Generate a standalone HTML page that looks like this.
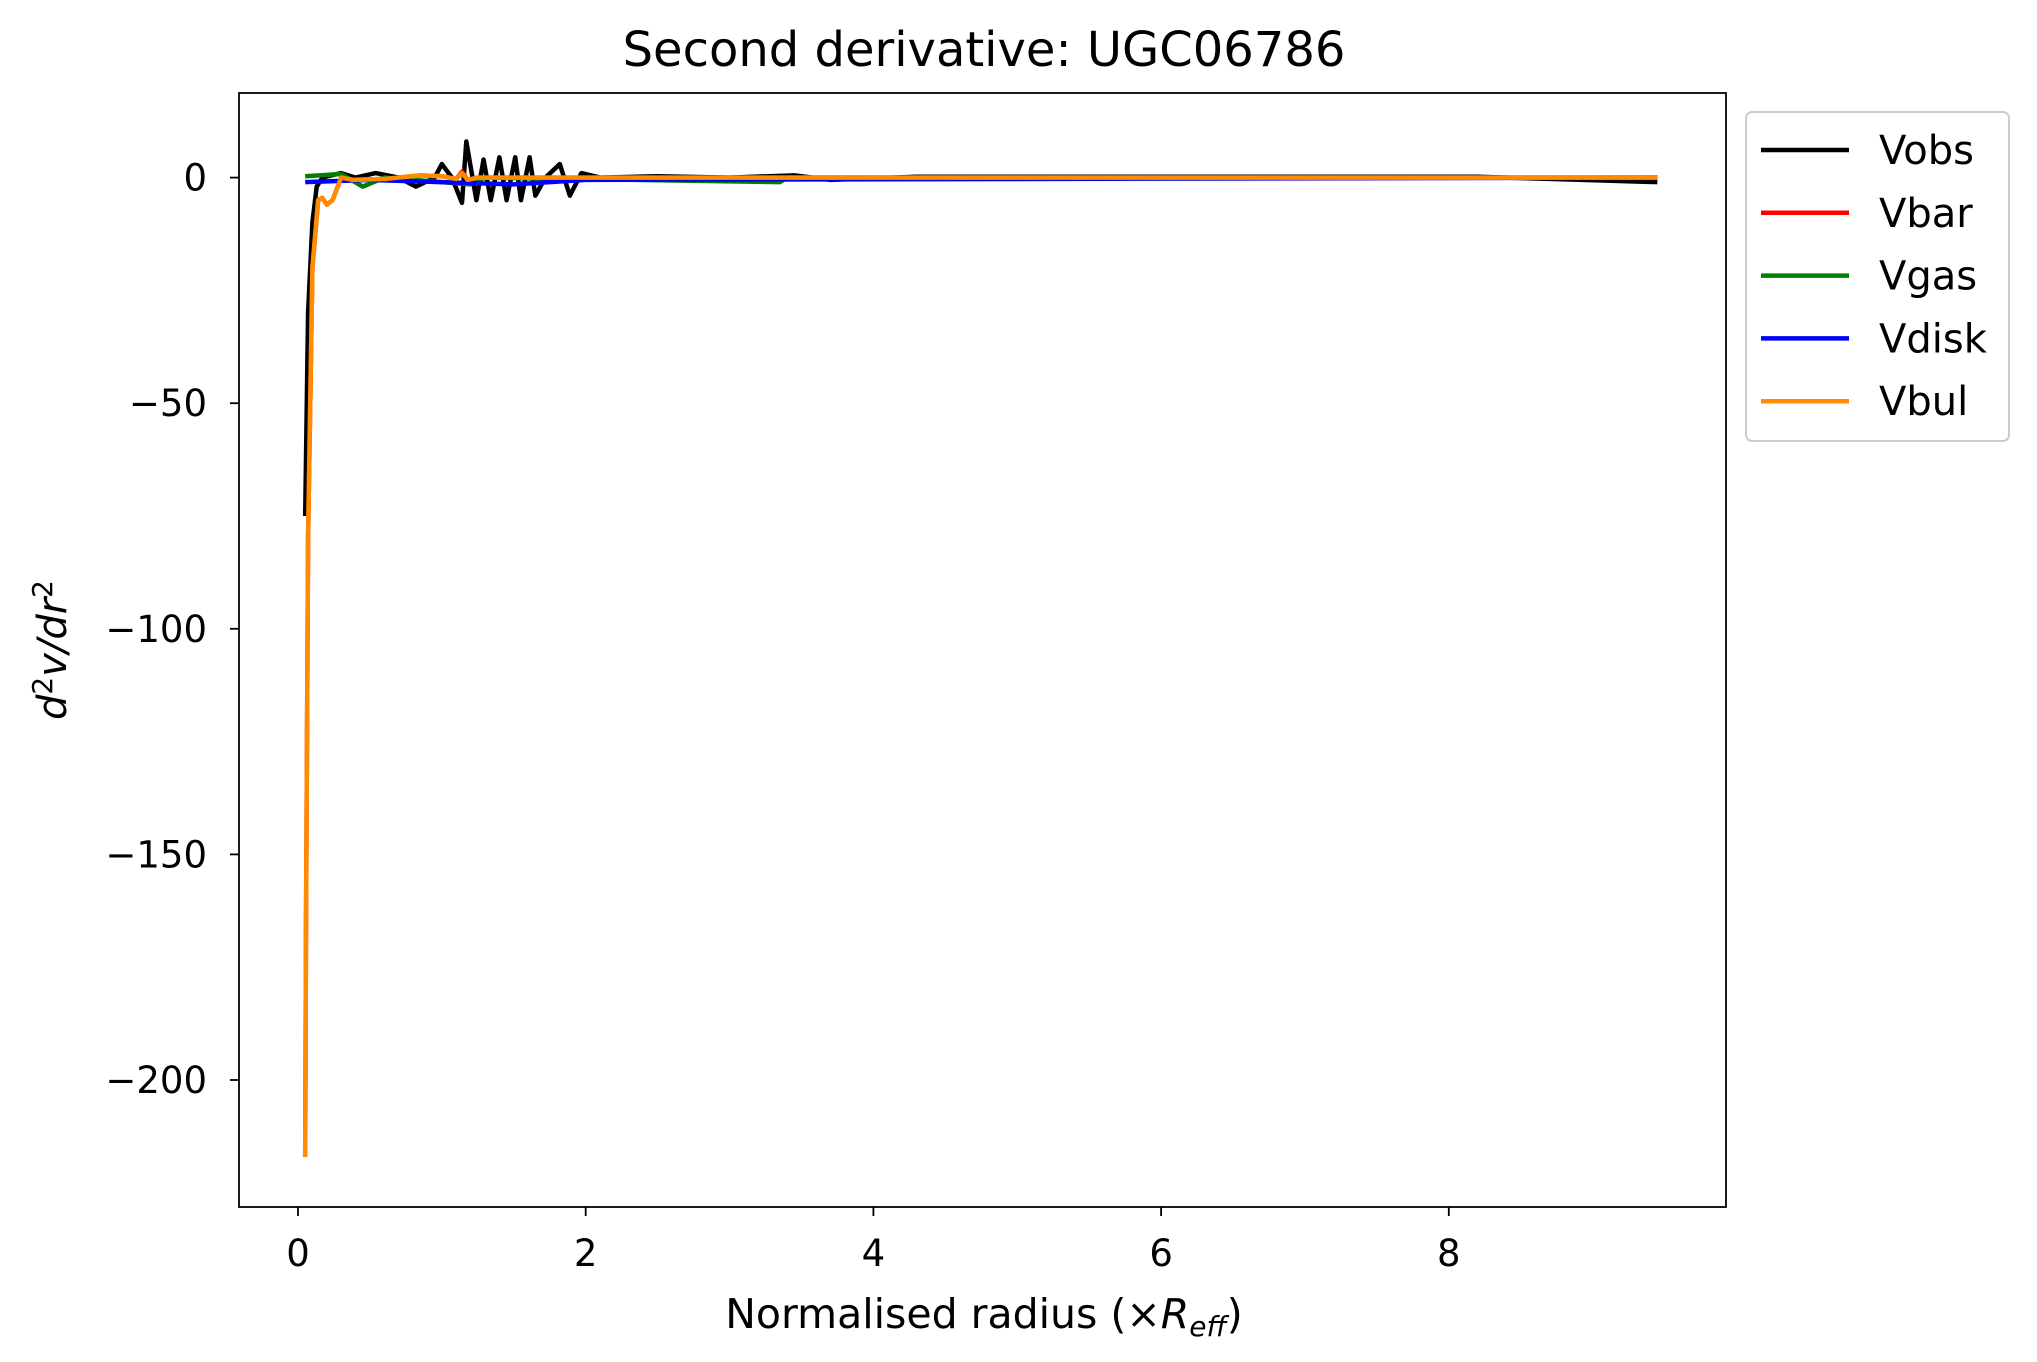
<!DOCTYPE html>
<html><head><meta charset="utf-8"><style>
body{margin:0;background:#fff}
svg{display:block;font-family:"DejaVu Sans","Liberation Sans",sans-serif}
</style></head><body>
<svg id="chart" width="2037" height="1362" viewBox="0 0 2037 1362">
<rect x="0" y="0" width="2037" height="1362" fill="#fff"/>
<text x="984" y="66" font-size="48" text-anchor="middle">Second derivative: UGC06786</text>
<g id="plot"></g>
<g id="axes"></g>
<rect x="239" y="93" width="1487" height="1114" fill="none" stroke="#000" stroke-width="1.8"/>
<text x="984" y="1328" font-size="41" text-anchor="middle">Normalised radius (×<tspan font-style="italic">R</tspan><tspan font-style="italic" font-size="28" dy="8">eff</tspan><tspan dy="-8">)</tspan></text>
<text transform="translate(66,650) rotate(-90)" font-size="40" text-anchor="middle" font-style="italic">d<tspan font-size="28" dy="-14" font-style="normal">2</tspan><tspan dy="14">v/dr</tspan><tspan font-size="28" dy="-14" font-style="normal">2</tspan></text>
<g id="legend">
<rect x="1746" y="112" width="263" height="329" rx="6" fill="#fff" stroke="#ccc" stroke-width="2"/>
</g>
</svg>
<script>
const xTicks=[0,2,4,6,8];
const yTicks=[0,-50,-100,-150,-200];
const yTickLabels=["0","\u221250","\u2212100","\u2212150","\u2212200"];
const seriesNames=["Vobs","Vbar","Vgas","Vdisk","Vbul"];
const seriesColors=["#000000","#ff0000","#008000","#0000ff","#ff8c00"];
const vobsX=[0.05,0.07,0.1,0.13,0.17,0.3,0.4,0.54,0.7,0.82,0.95,1.0,1.07,1.14,1.17,1.24,1.29,1.34,1.40,1.45,1.51,1.55,1.61,1.65,1.72,1.82,1.89,1.97,2.1,2.5,3.0,3.45,3.7,4.3,8.2,9.45];
const vobsY=[-75,-30,-10,-2,0,1,0,1,0,-2,0,3,0,-5.6,8,-5,4,-5,4.5,-5,4.5,-5,4.5,-4,0,3,-4,1,0,0.3,0,0.5,-0.5,0.2,0.2,-1];
const vbulX=[0.05,0.055,0.07,0.1,0.14,0.17,0.2,0.24,0.3,0.38,0.6,0.85,1.0,1.1,1.14,1.18,1.25,9.45];
const vbulY=[-217,-170,-80,-20,-5,-4.5,-6,-5,0,-0.5,-0.3,0.5,0.3,-0.3,1,-0.5,0,0];
const vbarX=vbulX;
const vbarY=[-217,-170,-80,-20,-5,-4.5,-6,-5,0,-0.5,-0.3,0.5,0.3,-0.3,1.3,-0.5,0,0];
const vgasX=[0.05,0.3,0.45,0.6,1.2,1.3,3.35,3.4,9.45];
const vgasY=[0.3,0.8,-2,0,-1.5,0,-1,0,0];
const vdiskX=[0.05,0.5,1.5,2.0,9.45];
const vdiskY=[-1,-0.5,-1.5,-0.5,0];

const NS="http://www.w3.org/2000/svg";
function sx(v){return 298+v*143.85;}
function sy(v){return 177.6-v*225.6/50;}
const axes=document.getElementById('axes');
xTicks.forEach(t=>{
  const l=document.createElementNS(NS,'line');
  l.setAttribute('x1',sx(t));l.setAttribute('x2',sx(t));l.setAttribute('y1',1207);l.setAttribute('y2',1216);
  l.setAttribute('stroke','#000');l.setAttribute('stroke-width','1.8');
  
  
  axes.appendChild(l);
  const tx=document.createElementNS(NS,'text');
  tx.setAttribute('x',sx(t));tx.setAttribute('y',1266);tx.setAttribute('font-size','37');tx.setAttribute('text-anchor','middle');
  tx.textContent=String(t);
  
  
  axes.appendChild(tx);
});
yTicks.forEach((t,i)=>{
  const l=document.createElementNS(NS,'line');
  l.setAttribute('x1',230);l.setAttribute('x2',239);l.setAttribute('y1',sy(t));l.setAttribute('y2',sy(t));
  l.setAttribute('stroke','#000');l.setAttribute('stroke-width','1.8');
  
  
  axes.appendChild(l);
  const tx=document.createElementNS(NS,'text');
  tx.setAttribute('x',207);tx.setAttribute('y',sy(t)+13);tx.setAttribute('font-size','37');tx.setAttribute('text-anchor','end');
  tx.textContent=yTickLabels[i];
  
  
  axes.appendChild(tx);
});
const plot=document.getElementById('plot');
const order=[[vobsX,vobsY,0],[vbarX,vbarY,1],[vgasX,vgasY,2],[vdiskX,vdiskY,3],[vbulX,vbulY,4]];
order.forEach(([xs,ys,k])=>{
  const p=document.createElementNS(NS,'polyline');
  p.setAttribute('points',xs.map((x,i)=>sx(x)+','+sy(ys[i])).join(' '));
  p.setAttribute('fill','none');p.setAttribute('stroke',seriesColors[k]);p.setAttribute('stroke-width','4.5');p.setAttribute('stroke-linejoin','round');
  
  
  plot.appendChild(p);
});
const lg=document.getElementById('legend');
seriesNames.forEach((n,i)=>{
  const y=150+i*62.8;
  const l=document.createElementNS(NS,'line');
  l.setAttribute('x1',1761);l.setAttribute('x2',1849);l.setAttribute('y1',y);l.setAttribute('y2',y);
  l.setAttribute('stroke',seriesColors[i]);l.setAttribute('stroke-width','4.5');
  
  
  lg.appendChild(l);
  const t=document.createElementNS(NS,'text');
  t.setAttribute('x',1879);t.setAttribute('y',y+14);t.setAttribute('font-size','40');
  t.textContent=n;
  
  
  lg.appendChild(t);
});
</script>
</body></html>
